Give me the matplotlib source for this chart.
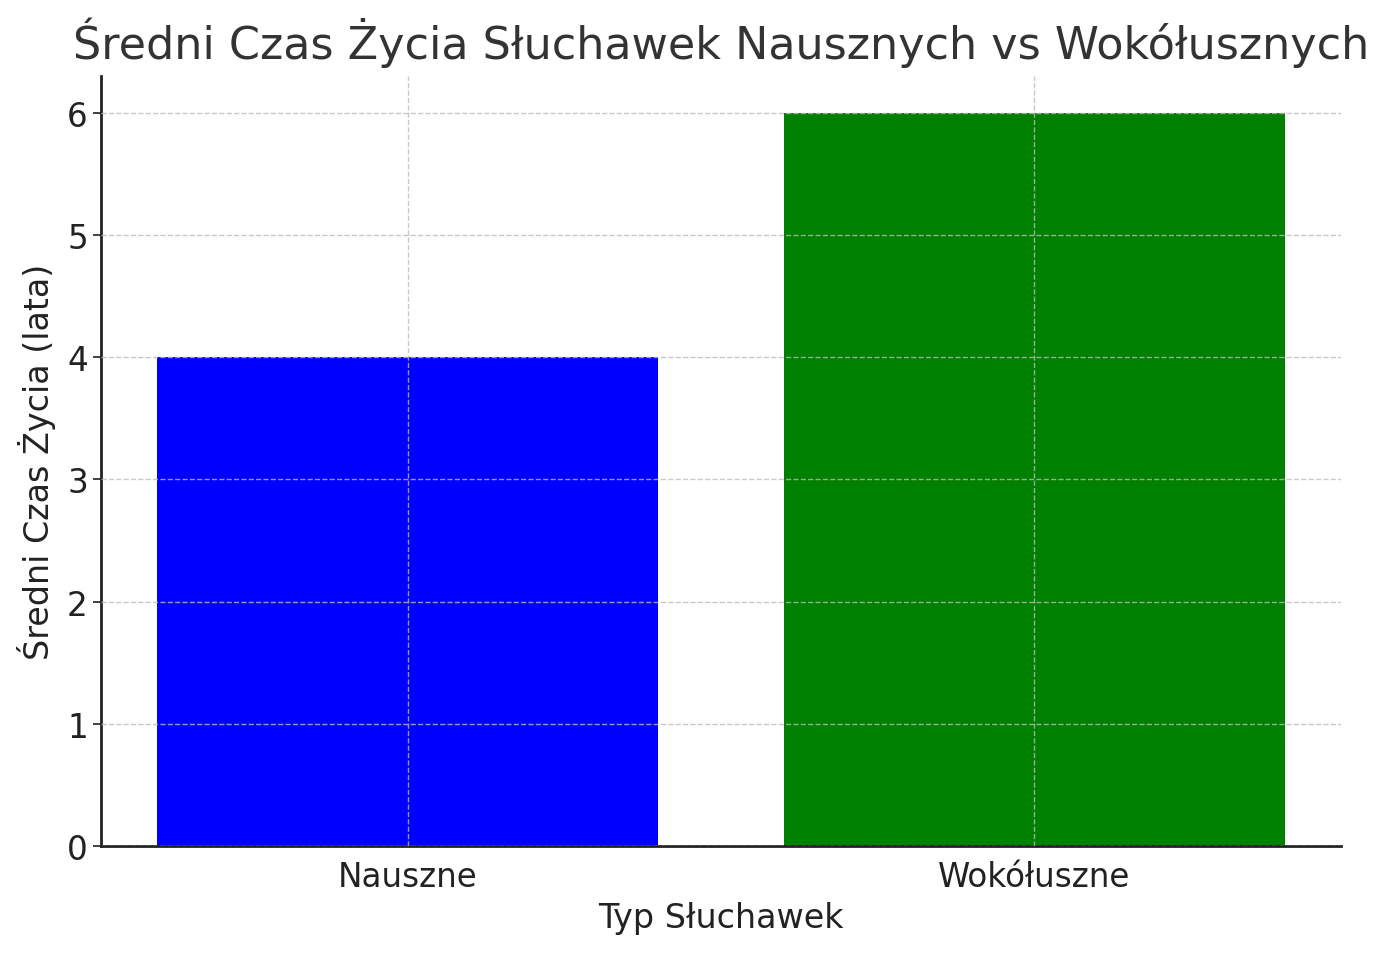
import matplotlib
matplotlib.use("Agg")
import matplotlib.pyplot as plt

# data
categories = ['Nauszne', 'Wokółuszne']
lifetimes = [4, 6]
bar_colors = ['blue', 'green']

fig = plt.figure(figsize=(13.89, 9.54), dpi=100)
ax = fig.add_axes([0.0727, 0.1122, 0.8927, 0.8071])

ax.bar(categories, lifetimes, color=bar_colors, width=0.8)

ax.set_title('Średni Czas Życia Słuchawek Nausznych vs Wokółusznych',
             fontsize=32, color='#333333', pad=13)
ax.set_xlabel('Typ Słuchawek', fontsize=24, color='#222222', labelpad=6)
ax.set_ylabel('Średni Czas Życia (lata)', fontsize=24, color='#222222', labelpad=8)

ax.tick_params(axis='both', labelsize=23.5, colors='#222222', length=6, width=1.2)
ax.tick_params(axis='x', length=0, pad=10)

ax.set_axisbelow(False)
ax.grid(True, linestyle='--', color='#bbbbbb', linewidth=1, alpha=0.8)

for side in ['top', 'right']:
    ax.spines[side].set_visible(False)
for side in ['left', 'bottom']:
    ax.spines[side].set_linewidth(2)
    ax.spines[side].set_color('#222222')

fig.savefig('out.png', dpi=100)
